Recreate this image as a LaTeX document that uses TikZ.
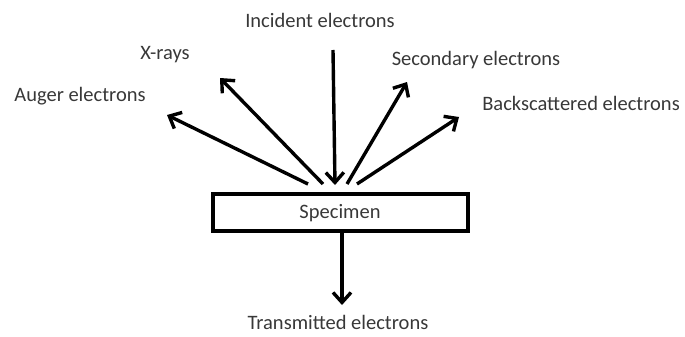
\documentclass[tikz,border=0pt]{standalone}
\usepackage{fontspec}
\setmainfont{Carlito}
\usetikzlibrary{arrows.meta}
\begin{document}
\begin{tikzpicture}[x=1pt,y=-1pt,
  lbl/.style={font=\fontsize{20.5}{22}\selectfont, text=black!78, inner sep=0pt},
  arr/.style={line width=3.4pt, -{Straight Barb[length=10pt,width=18pt,line width=3.4pt]}},
  box/.style={draw, line width=3.6pt, minimum width=255pt, minimum height=37pt, inner sep=0pt}]
\useasboundingbox (0,0) rectangle (685,337);
\node[box] (spec) at (340.5,212.5) {};
\node[lbl] (spect) at (340,213) {Specimen};
\node[lbl] (inc) at (320,20) {Incident electrons};
\node[lbl] (xr) at (165,55) {X-rays};
\node[lbl] (aug) at (80,96) {Auger electrons};
\node[lbl] (sec) at (476,60) {Secondary electrons};
\node[lbl] (back) at (581,103) {Backscattered electrons};
\node[lbl] (trans) at (338,322) {Transmitted electrons};
\coordinate (incA) at (333,50);
\coordinate (incB) at (335,185);
\coordinate (xA) at (323,184);
\coordinate (xB) at (220,78);
\coordinate (aA) at (308,184);
\coordinate (aB) at (167,115);
\coordinate (sA) at (347,184);
\coordinate (sB) at (407,82);
\coordinate (bA) at (357,184);
\coordinate (bB) at (459,117);
\coordinate (tB) at (342,305);
\draw[arr] (incA) -- (incB);
\draw[arr] (xA) -- (xB);
\draw[arr] (aA) -- (aB);
\draw[arr] (sA) -- (sB);
\draw[arr] (bA) -- (bB);
\draw[arr] (spec.south -| tB) -- (tB);
\end{tikzpicture}
\end{document}
